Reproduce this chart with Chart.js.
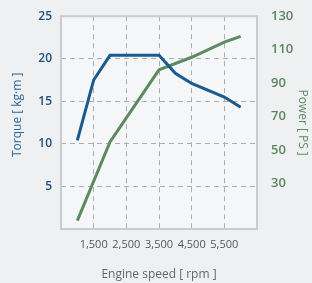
<!DOCTYPE html>
<html>
<head>
<meta charset="utf-8">
<script src="https://cdn.jsdelivr.net/npm/chart.js@4"></script>
<style>
  html, body { margin: 0; padding: 0; background: #eef0f2; }
  #wrap { width: 312px; height: 283px; }
</style>
</head>
<body>
<div id="wrap"><canvas id="chart" width="312" height="283"></canvas></div>
<script>
// engine speed (rpm)
let rpm = [1000, 1500, 2000, 3500, 4000, 4500, 5500, 6000];
let torque = [10.4, 17.5, 20.4, 20.4, 18.3, 17.1, 15.5, 14.3];
let powerRpm = [1000, 2000, 3500, 4500, 5500, 6000];
let power = [8, 55, 98, 105.5, 114.5, 118];
let xTicks = [1500, 2500, 3500, 4500, 5500];
let powerTicks = [30, 50, 70, 90, 110, 130];

const BLUE = "#1b5a8c";
const GREEN = "#5d8a60";

const frame = {
  id: "frame",
  beforeDraw(c) {
    const a = c.chartArea, ctx = c.ctx;
    ctx.save();
    ctx.fillStyle = "#f5f6f8";
    ctx.fillRect(a.left, a.top, a.right - a.left, a.bottom - a.top);
    ctx.restore();
  },
  afterDatasetsDraw(c) {
    const a = c.chartArea, ctx = c.ctx;
    ctx.save();
    ctx.strokeStyle = "#c8cbd0";
    ctx.lineWidth = 2;
    ctx.strokeRect(a.left, a.top, a.right - a.left, a.bottom - a.top);
    ctx.restore();
  },
};

new Chart(document.getElementById("chart"), {
  type: "line",
  data: {
    datasets: [
      {
        label: "Torque",
        data: rpm.map((r, i) => ({ x: r, y: torque[i] })),
        borderColor: BLUE,
        borderWidth: 3,
        pointRadius: 0,
        yAxisID: "y",
        tension: 0,
      },
      {
        label: "Power",
        data: powerRpm.map((r, i) => ({ x: r, y: power[i] })),
        borderColor: GREEN,
        borderWidth: 3,
        pointRadius: 0,
        yAxisID: "y1",
        tension: 0,
      },
    ],
  },
  options: {
    responsive: false,
    animation: false,
    layout: { padding: { top: 16, bottom: 0, left: 0, right: 0 } },
    plugins: { legend: { display: false }, tooltip: { enabled: false } },
    scales: {
      x: {
        type: "linear",
        min: 500,
        max: 6500,
        afterBuildTicks: (s) => { s.ticks = xTicks.map((v) => ({ value: v })); },
        afterFit: (s) => { s.height = 54; },
        grid: { color: "#a9aeb6", drawTicks: false, tickBorderDash: [5, 4] },
        border: { display: false, dash: [5, 4] },
        ticks: {
          padding: 9,
          color: "#555",
          maxRotation: 0,
          font: { family: "Open Sans", size: 11 },
          callback: (v) => v.toLocaleString("en-US"),
        },
        title: {
          display: true,
          text: "Engine speed [ rpm ]",
          color: "#666",
          padding: { top: 0, bottom: 1 },
          font: { family: "Open Sans", size: 12 },
        },
      },
      y: {
        position: "left",
        min: 0,
        max: 25,
        afterFit: (s) => { s.width = 61; },
        grid: { color: "#a9aeb6", drawTicks: false },
        border: { display: false, dash: [5, 4] },
        ticks: {
          stepSize: 5,
          padding: 9,
          color: "#1f4f7c",
          font: { family: "Open Sans", size: 12, weight: "600" },
          callback: (v) => (v === 0 ? "" : v),
        },
        title: {
          display: true,
          text: "\u00a0\u00a0\u00a0\u00a0\u00a0Torque [ kg·m ]",
          color: "#2b689a",
          padding: { top: 10, bottom: 0 },
          font: { family: "Open Sans", size: 12 },
        },
      },
      y1: {
        position: "right",
        min: 3,
        max: 130,
        afterBuildTicks: (s) => { s.ticks = powerTicks.map((v) => ({ value: v })); },
        afterFit: (s) => { s.width = 55; },
        grid: { display: false },
        border: { display: false },
        ticks: {
          padding: 6,
          color: "#5a875d",
          font: { family: "Open Sans", size: 13, weight: "600" },
        },
        title: {
          display: true,
          text: "Power [ PS ]",
          color: "#5e8c62",
          padding: { top: 2, bottom: 0 },
          font: { family: "Open Sans", size: 12 },
        },
      },
    },
  },
  plugins: [frame],
});
</script>
</body>
</html>
